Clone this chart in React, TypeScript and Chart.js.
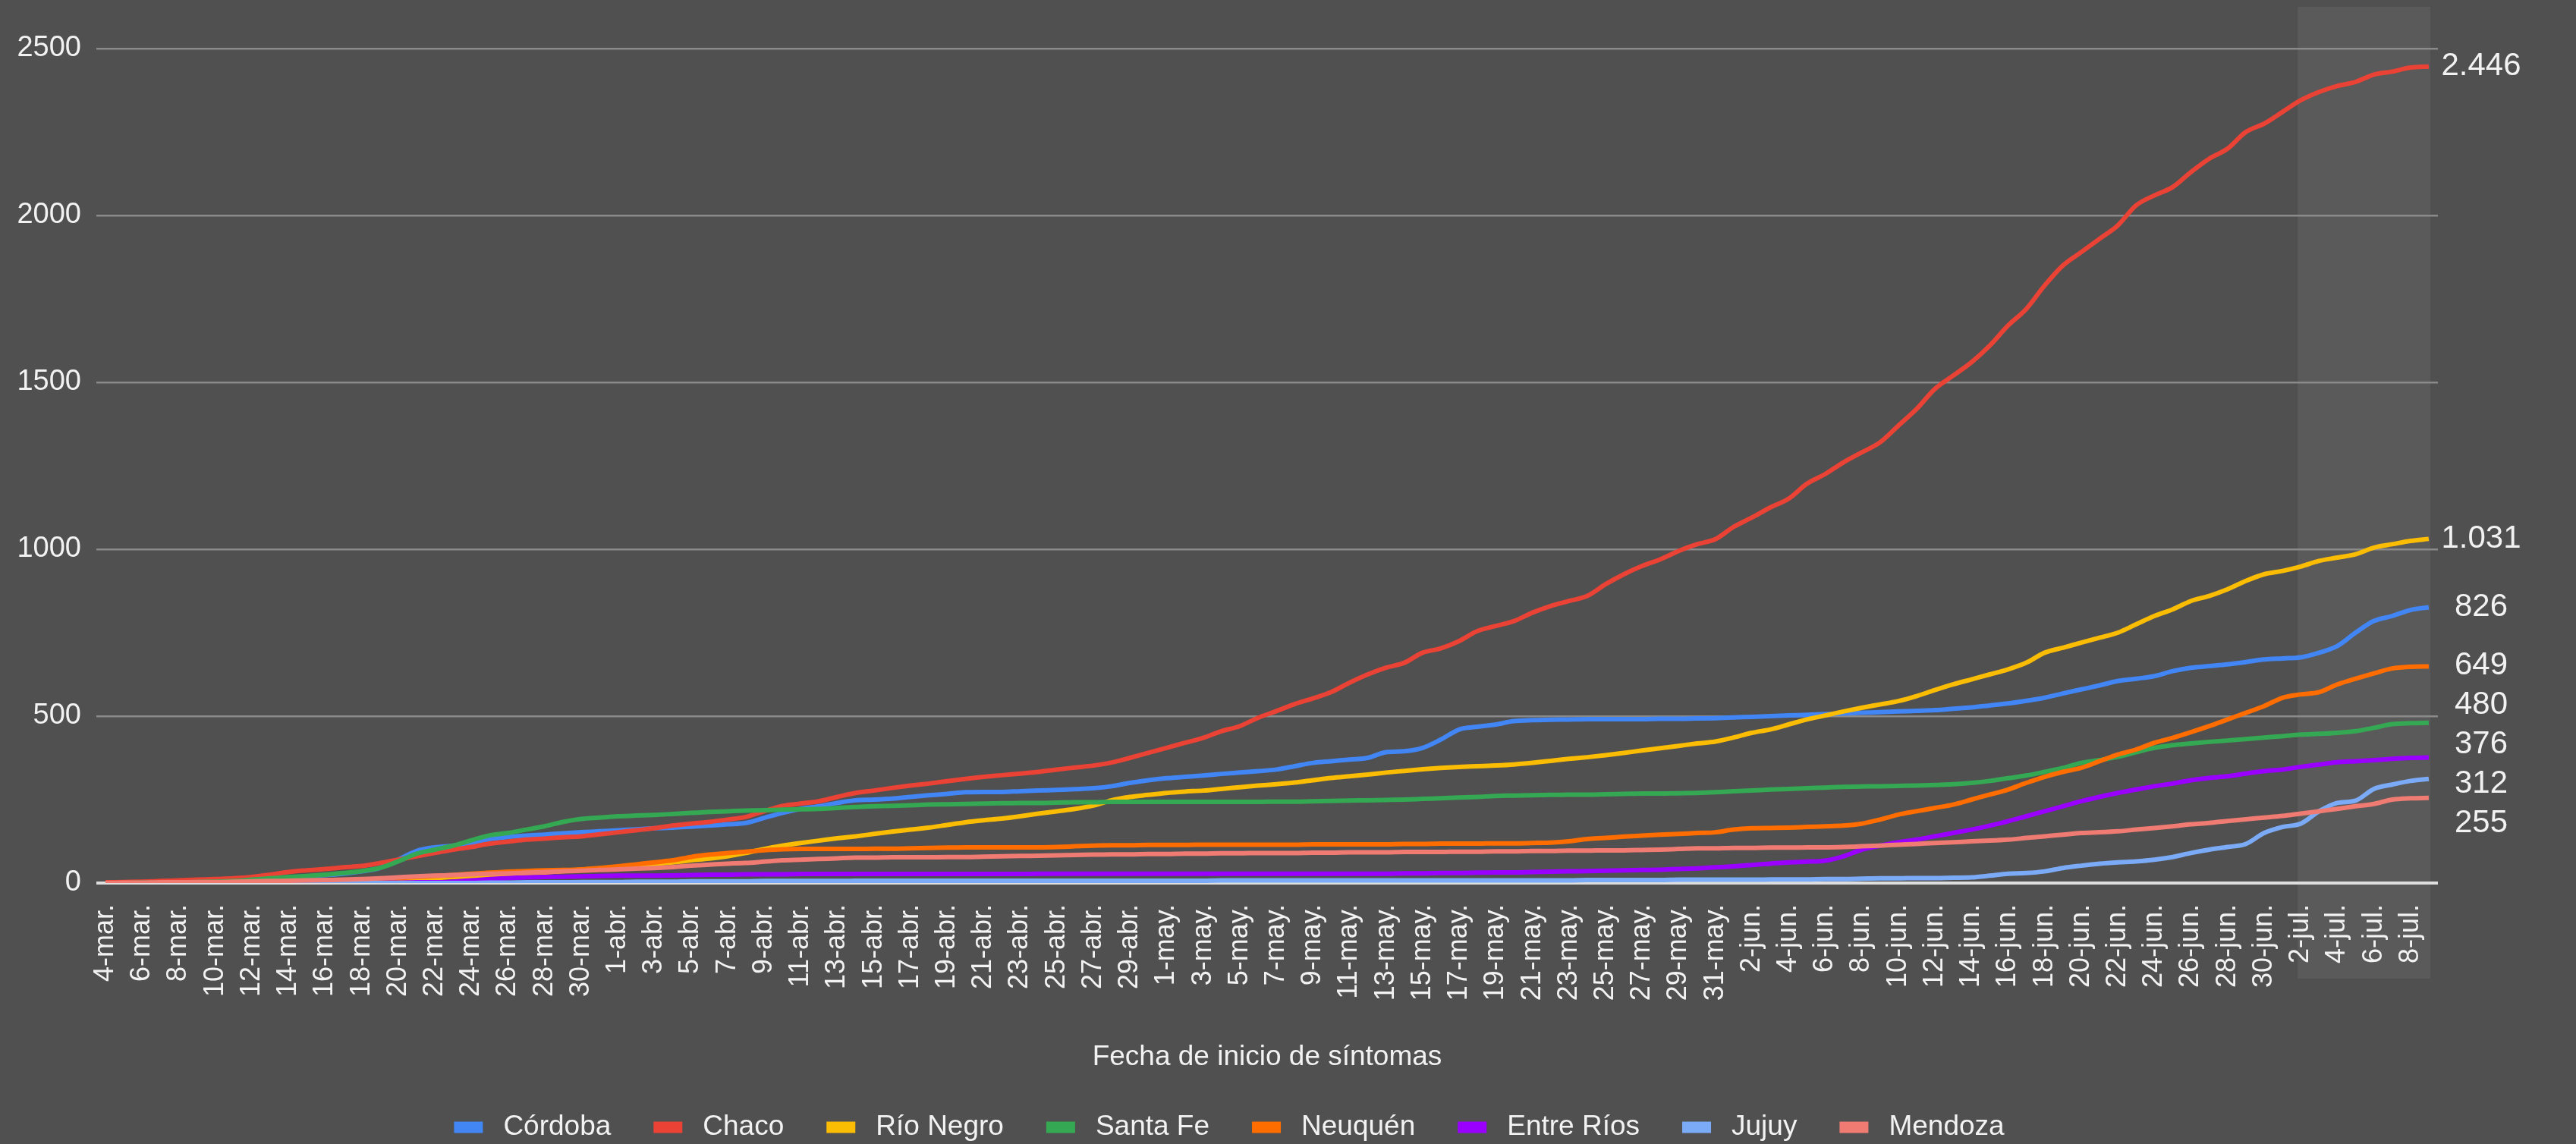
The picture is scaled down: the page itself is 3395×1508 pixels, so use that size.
import React, { useEffect, useRef } from 'react';
import { Chart, registerables } from 'chart.js';
Chart.register(...registerables);

const MONTHS = [
  { name: 'mar.', start: 4, end: 31 },
  { name: 'abr.', start: 1, end: 30 },
  { name: 'may.', start: 1, end: 31 },
  { name: 'jun.', start: 1, end: 30 },
  { name: 'jul.', start: 1, end: 9 },
];
const categories: string[] = [];
for (const m of MONTHS) for (let d = m.start; d <= m.end; d++) categories.push(`${d}-${m.name}`);

const cordoba = [
  0, 0, 1, 1, 2, 3, 4, 6, 8, 12,
  17, 20, 24, 28, 35, 45, 70, 96, 107, 112,
  120, 132, 138, 142, 145, 149, 152, 155, 158, 161,
  164, 166, 169, 172, 176, 180, 195, 210, 222, 230,
  240, 248, 250, 253, 258, 263, 267, 272, 273, 273,
  275, 277, 279, 281, 284, 290, 300, 308, 314, 318,
  322, 327, 331, 335, 340, 350, 360, 365, 370, 375,
  392, 395, 405, 430, 460, 468, 475, 485, 488, 489,
  490, 491, 491, 491, 491, 492, 492, 493, 494, 496,
  498, 500, 502, 504, 506, 508, 510, 512, 514, 516,
  518, 522, 526, 532, 538, 546, 555, 568, 580, 592,
  605, 612, 620, 635, 645, 650, 655, 662, 670, 673,
  676, 690, 710, 750, 785, 800, 818, 826,
];
const chaco = [
  2, 3, 4, 6, 8, 10, 12, 14, 18, 25,
  33, 38, 42, 47, 51, 60, 70, 80, 90, 100,
  108, 118, 124, 130, 133, 137, 140, 146, 152, 158,
  164, 172, 178, 183, 190, 198, 215, 231, 238, 245,
  258, 270, 277, 285, 292, 298, 305, 312, 318, 323,
  328, 333, 340, 346, 352, 361, 375, 390, 405, 420,
  435, 455, 470, 495, 515, 536, 553, 572, 600, 625,
  645, 660, 690, 703, 725, 755, 770, 785, 810, 830,
  845, 860, 895, 925, 950, 970, 995, 1015, 1030, 1067,
  1095, 1125, 1151, 1196, 1225, 1260, 1290, 1320, 1370, 1420,
  1480, 1520, 1560, 1610, 1670, 1720, 1790, 1850, 1890, 1930,
  1970, 2030, 2060, 2085, 2130, 2170, 2200, 2250, 2275, 2310,
  2345, 2370, 2388, 2400, 2422, 2431, 2443, 2446,
];
const rioNegro = [
  0, 0, 0, 0, 0, 1, 1, 1, 2, 2,
  3, 3, 4, 5, 6, 8, 10, 12, 15, 18,
  20, 23, 26, 29, 32, 36, 40, 44, 48, 52,
  57, 62, 68, 73, 80, 90, 102, 112, 120, 127,
  134, 140, 147, 154, 160, 166, 174, 182, 188, 193,
  200, 208, 215, 222, 232, 248, 258, 264, 270, 274,
  277, 282, 287, 292, 296, 301, 308, 315, 320, 325,
  331, 336, 341, 345, 348, 350, 352, 355, 360, 366,
  372, 377, 383, 390, 397, 404, 411, 418, 424, 436,
  450, 460, 475, 490, 502, 514, 525, 535, 545, 560,
  578, 595, 610, 625, 640, 660, 690, 705, 720, 735,
  750, 775, 800, 820, 845, 860, 880, 905, 925, 935,
  948, 965, 975, 985, 1005, 1015, 1025, 1031,
];
const santaFe = [
  0, 0, 1, 1, 2, 3, 4, 6, 10, 14,
  18, 21, 25, 30, 36, 45, 65, 88, 100, 112,
  128, 143, 150, 160, 170, 183, 192, 196, 200, 202,
  204, 207, 210, 213, 215, 217, 218, 220, 221, 222,
  225, 228, 230, 231, 233, 235, 236, 237, 238, 239,
  240, 240, 241, 242, 242, 243, 243, 243, 243, 243,
  243, 243, 243, 243, 244, 244, 245, 246, 247, 248,
  249, 250, 252, 254, 256, 258, 261, 262, 263, 264,
  265, 265, 266, 267, 268, 268, 269, 270, 272, 275,
  277, 280, 282, 284, 286, 288, 289, 290, 291, 292,
  294, 296, 300, 306, 314, 322, 333, 345, 360, 368,
  378, 392, 405, 413, 418, 423, 427, 431, 436, 440,
  445, 447, 450, 455, 465, 476, 479, 480,
];
const neuquen = [
  0, 0, 0, 0, 0, 0, 0, 1, 1, 2,
  2, 3, 4, 5, 7, 12, 15, 18, 21, 24,
  28, 31, 34, 36, 38, 39, 41, 45, 50, 56,
  62, 68, 78, 85, 90, 94, 98, 101, 102, 102,
  102, 102, 103, 103, 104, 105, 106, 107, 107, 107,
  107, 107, 108, 110, 112, 113, 113, 114, 114, 114,
  115, 115, 115, 115, 115, 115, 116, 116, 116, 116,
  116, 117, 117, 118, 118, 118, 119, 119, 120, 121,
  125, 132, 135, 139, 142, 145, 147, 150, 152, 160,
  164, 165, 166, 168, 170, 172, 178, 190, 205, 215,
  225, 235, 250, 265, 280, 300, 318, 333, 345, 365,
  385, 400, 420, 435, 452, 470, 490, 510, 530, 555,
  565, 572, 595, 612, 628, 643, 648, 649,
];
const entreRios = [
  0, 0, 0, 0, 0, 0, 0, 0, 0, 0,
  0, 0, 0, 0, 1, 1, 1, 2, 2, 4,
  8, 12, 15, 17, 18, 19, 20, 21, 22, 22,
  22, 23, 24, 25, 25, 26, 26, 26, 27, 27,
  27, 27, 27, 27, 27, 27, 27, 27, 27, 27,
  27, 28, 28, 28, 28, 28, 28, 28, 28, 28,
  28, 28, 28, 28, 28, 28, 28, 28, 28, 28,
  28, 29, 29, 30, 30, 31, 32, 32, 33, 34,
  35, 36, 37, 38, 39, 40, 42, 44, 47, 50,
  54, 58, 62, 64, 67, 80, 100, 112, 122, 130,
  140, 150, 160, 172, 185, 200, 215, 230, 245, 258,
  270, 280, 290, 298, 308, 315, 320, 328, 335, 340,
  348, 355, 362, 365, 368, 372, 375, 376,
];
const jujuy = [
  0, 0, 0, 0, 0, 0, 0, 0, 0, 0,
  0, 0, 0, 0, 0, 0, 0, 0, 0, 0,
  0, 1, 1, 2, 2, 2, 3, 3, 3, 4,
  4, 4, 5, 5, 5, 5, 6, 6, 6, 6,
  6, 7, 7, 7, 7, 7, 7, 7, 7, 7,
  7, 7, 7, 7, 7, 7, 7, 7, 7, 7,
  7, 8, 8, 8, 8, 8, 8, 8, 8, 8,
  8, 8, 8, 8, 8, 8, 8, 8, 8, 8,
  8, 9, 9, 9, 9, 9, 10, 10, 10, 10,
  10, 11, 11, 11, 12, 12, 13, 14, 14, 15,
  15, 16, 17, 22, 28, 30, 35, 45, 52, 58,
  62, 65, 70, 78, 90, 100, 108, 117, 150, 168,
  178, 215, 240, 247, 282, 295, 306, 312,
];
const mendoza = [
  0, 1, 1, 2, 2, 3, 3, 4, 5, 6,
  7, 8, 9, 10, 12, 14, 17, 20, 22, 24,
  26, 28, 29, 31, 33, 35, 37, 39, 41, 43,
  45, 48, 52, 55, 58, 60, 64, 68, 70, 72,
  74, 76, 76, 77, 77, 77, 78, 78, 79, 80,
  81, 82, 83, 84, 85, 86, 86, 87, 87, 88,
  88, 89, 89, 90, 90, 90, 91, 91, 92, 92,
  92, 93, 93, 93, 94, 94, 95, 95, 96, 96,
  97, 97, 98, 98, 99, 100, 102, 104, 104, 105,
  105, 106, 106, 107, 107, 108, 110, 112, 115, 117,
  120, 122, 125, 127, 130, 135, 140, 145, 150, 152,
  155, 160, 165, 170, 176, 180, 186, 191, 196, 201,
  208, 215, 222, 230, 237, 250, 254, 255,
];

const seriesNames = ['Córdoba', 'Chaco', 'Río Negro', 'Santa Fe', 'Neuquén', 'Entre Ríos', 'Jujuy', 'Mendoza'];
const seriesValues = [cordoba, chaco, rioNegro, santaFe, neuquen, entreRios, jujuy, mendoza];
const seriesColors = ['#4285F4', '#EA4335', '#FBBC04', '#34A853', '#FF6D01', '#9900FF', '#7BAAF7', '#F07B72'];
const yTicks = [0, 500, 1000, 1500, 2000, 2500];
const highlightFrom = '2-jul.';
const axisTitle = 'Fecha de inicio de síntomas';

const BG = '#505050';
const SHADE = '#5a5a5a';
const TEXT = '#f2f2f2';
const FONT = "'Liberation Sans', Arial, sans-serif";

function fmt(v: number): string {
  if (v >= 1000) return `${Math.floor(v / 1000)}.${String(v % 1000).padStart(3, '0')}`;
  return String(v);
}

const bgPlugin = {
  id: 'bgPlugin',
  beforeDraw(chart: any) {
    const { ctx, chartArea, scales } = chart;
    ctx.save();
    ctx.fillStyle = BG;
    ctx.fillRect(0, 0, chart.width, chart.height);
    const xs = scales.x;
    const i0 = categories.indexOf(highlightFrom);
    const x1 = xs.getPixelForValue(i0) - 4;
    const x2 = xs.getPixelForValue(categories.length - 1) + 2;
    ctx.fillStyle = SHADE;
    ctx.fillRect(x1, chartArea.top - 55, x2 - x1, chartArea.bottom - chartArea.top + 55 + 126);
    ctx.restore();
  },
};

const endLabelPlugin = {
  id: 'endLabelPlugin',
  afterDatasetsDraw(chart: any) {
    const { ctx, chartArea, scales } = chart;
    const ys = scales.y;
    const items = seriesValues.map((vals) => {
      const v = vals[vals.length - 1];
      return { v, y: ys.getPixelForValue(v) };
    });
    items.sort((a, b) => a.y - b.y);
    const gap = 52;
    let blocks: { items: any[]; center: number }[] = items.map((it) => ({ items: [it], center: it.y }));
    let changed = true;
    while (changed) {
      changed = false;
      for (let i = 0; i < blocks.length - 1; i++) {
        const a = blocks[i];
        const b = blocks[i + 1];
        const aBottom = a.center + ((a.items.length - 1) * gap) / 2;
        const bTop = b.center - ((b.items.length - 1) * gap) / 2;
        if (bTop - aBottom < gap) {
          const all = a.items.concat(b.items);
          const mean = all.reduce((s, it) => s + it.y, 0) / all.length;
          blocks.splice(i, 2, { items: all, center: mean });
          changed = true;
          break;
        }
      }
    }
    ctx.save();
    ctx.fillStyle = TEXT;
    ctx.font = `42px ${FONT}`;
    ctx.textAlign = 'center';
    ctx.textBaseline = 'middle';
    const x = chartArea.right + 57;
    for (const bl of blocks) {
      const start = bl.center - ((bl.items.length - 1) * gap) / 2;
      bl.items.forEach((it, k) => {
        ctx.fillText(fmt(it.v), x, start + k * gap);
      });
    }
    ctx.restore();
  },
};

const legendPlugin = {
  id: 'customLegend',
  afterDraw(chart: any) {
    const { ctx, chartArea } = chart;
    ctx.save();
    ctx.font = `37px ${FONT}`;
    const sw = 38;
    const sh = 15;
    const sGap = 27;
    const itemGap = 56;
    const widths = seriesNames.map((n) => sw + sGap + ctx.measureText(n).width);
    const total = widths.reduce((s, w) => s + w, 0) + itemGap * (seriesNames.length - 1);
    const cx = (chartArea.left + chartArea.right) / 2 - 50;
    let x = cx - total / 2;
    const y = 1486;
    ctx.textBaseline = 'middle';
    ctx.textAlign = 'left';
    seriesNames.forEach((n, i) => {
      ctx.fillStyle = seriesColors[i];
      ctx.fillRect(x, y - sh / 2, sw, sh);
      ctx.fillStyle = TEXT;
      ctx.fillText(n, x + sw + sGap, y);
      x += widths[i] + itemGap;
    });
    ctx.restore();
  },
};

export default function App() {
  const ref = useRef<HTMLCanvasElement | null>(null);
  useEffect(() => {
    if (!ref.current) return;
    Chart.defaults.font.family = FONT;
    const n = seriesNames.length;
    const chart = new Chart(ref.current, {
      type: 'line',
      data: {
        labels: categories,
        datasets: seriesNames.map((name, i) => ({
          label: name,
          data: seriesValues[i],
          borderColor: seriesColors[i],
          backgroundColor: seriesColors[i],
          borderWidth: 6,
          pointRadius: 0,
          tension: 0.3,
          cubicInterpolationMode: 'monotone' as const,
          order: n - 1 - i,
        })),
      },
      options: {
        animation: false,
        responsive: true,
        maintainAspectRatio: false,
        devicePixelRatio: 1,
        layout: { padding: { top: 64, right: 182, bottom: 0, left: 0 } },
        plugins: {
          legend: { display: false },
          tooltip: { enabled: false },
        },
        scales: {
          x: {
            type: 'category',
            offset: true,
            grid: { display: false },
            border: { display: false },
            ticks: {
              autoSkip: false,
              minRotation: 90,
              maxRotation: 90,
              padding: 20,
              color: TEXT,
              font: { size: 36 },
              callback: (_v: any, idx: number) => (idx % 2 === 0 ? categories[idx] : ''),
            },
            title: {
              display: true,
              text: axisTitle,
              color: TEXT,
              font: { size: 37 },
              padding: { top: 0, bottom: 92 },
            },
            afterFit: (scale: any) => {
              scale.height = 344;
            },
          },
          y: {
            min: 0,
            max: 2500,
            afterBuildTicks: (scale: any) => {
              scale.ticks = yTicks.map((v) => ({ value: v }));
            },
            grid: {
              drawTicks: false,
              color: (c: any) => (c.tick && c.tick.value === 0 ? '#dedede' : '#8a8a8a'),
              lineWidth: (c: any) => (c.tick && c.tick.value === 0 ? 4 : 2.5),
            },
            border: { display: false },
            ticks: {
              padding: 20,
              color: TEXT,
              font: { size: 38 },
              callback: (v: any) => String(v),
            },
            afterFit: (scale: any) => {
              scale.width = 127;
            },
          },
        },
      },
      plugins: [bgPlugin, endLabelPlugin, legendPlugin],
    });
    return () => chart.destroy();
  }, []);
  return (
    <div style={{ position: 'absolute', left: 0, top: 0, width: 3395, height: 1508, background: BG }}>
      <canvas ref={ref} />
    </div>
  );
}
